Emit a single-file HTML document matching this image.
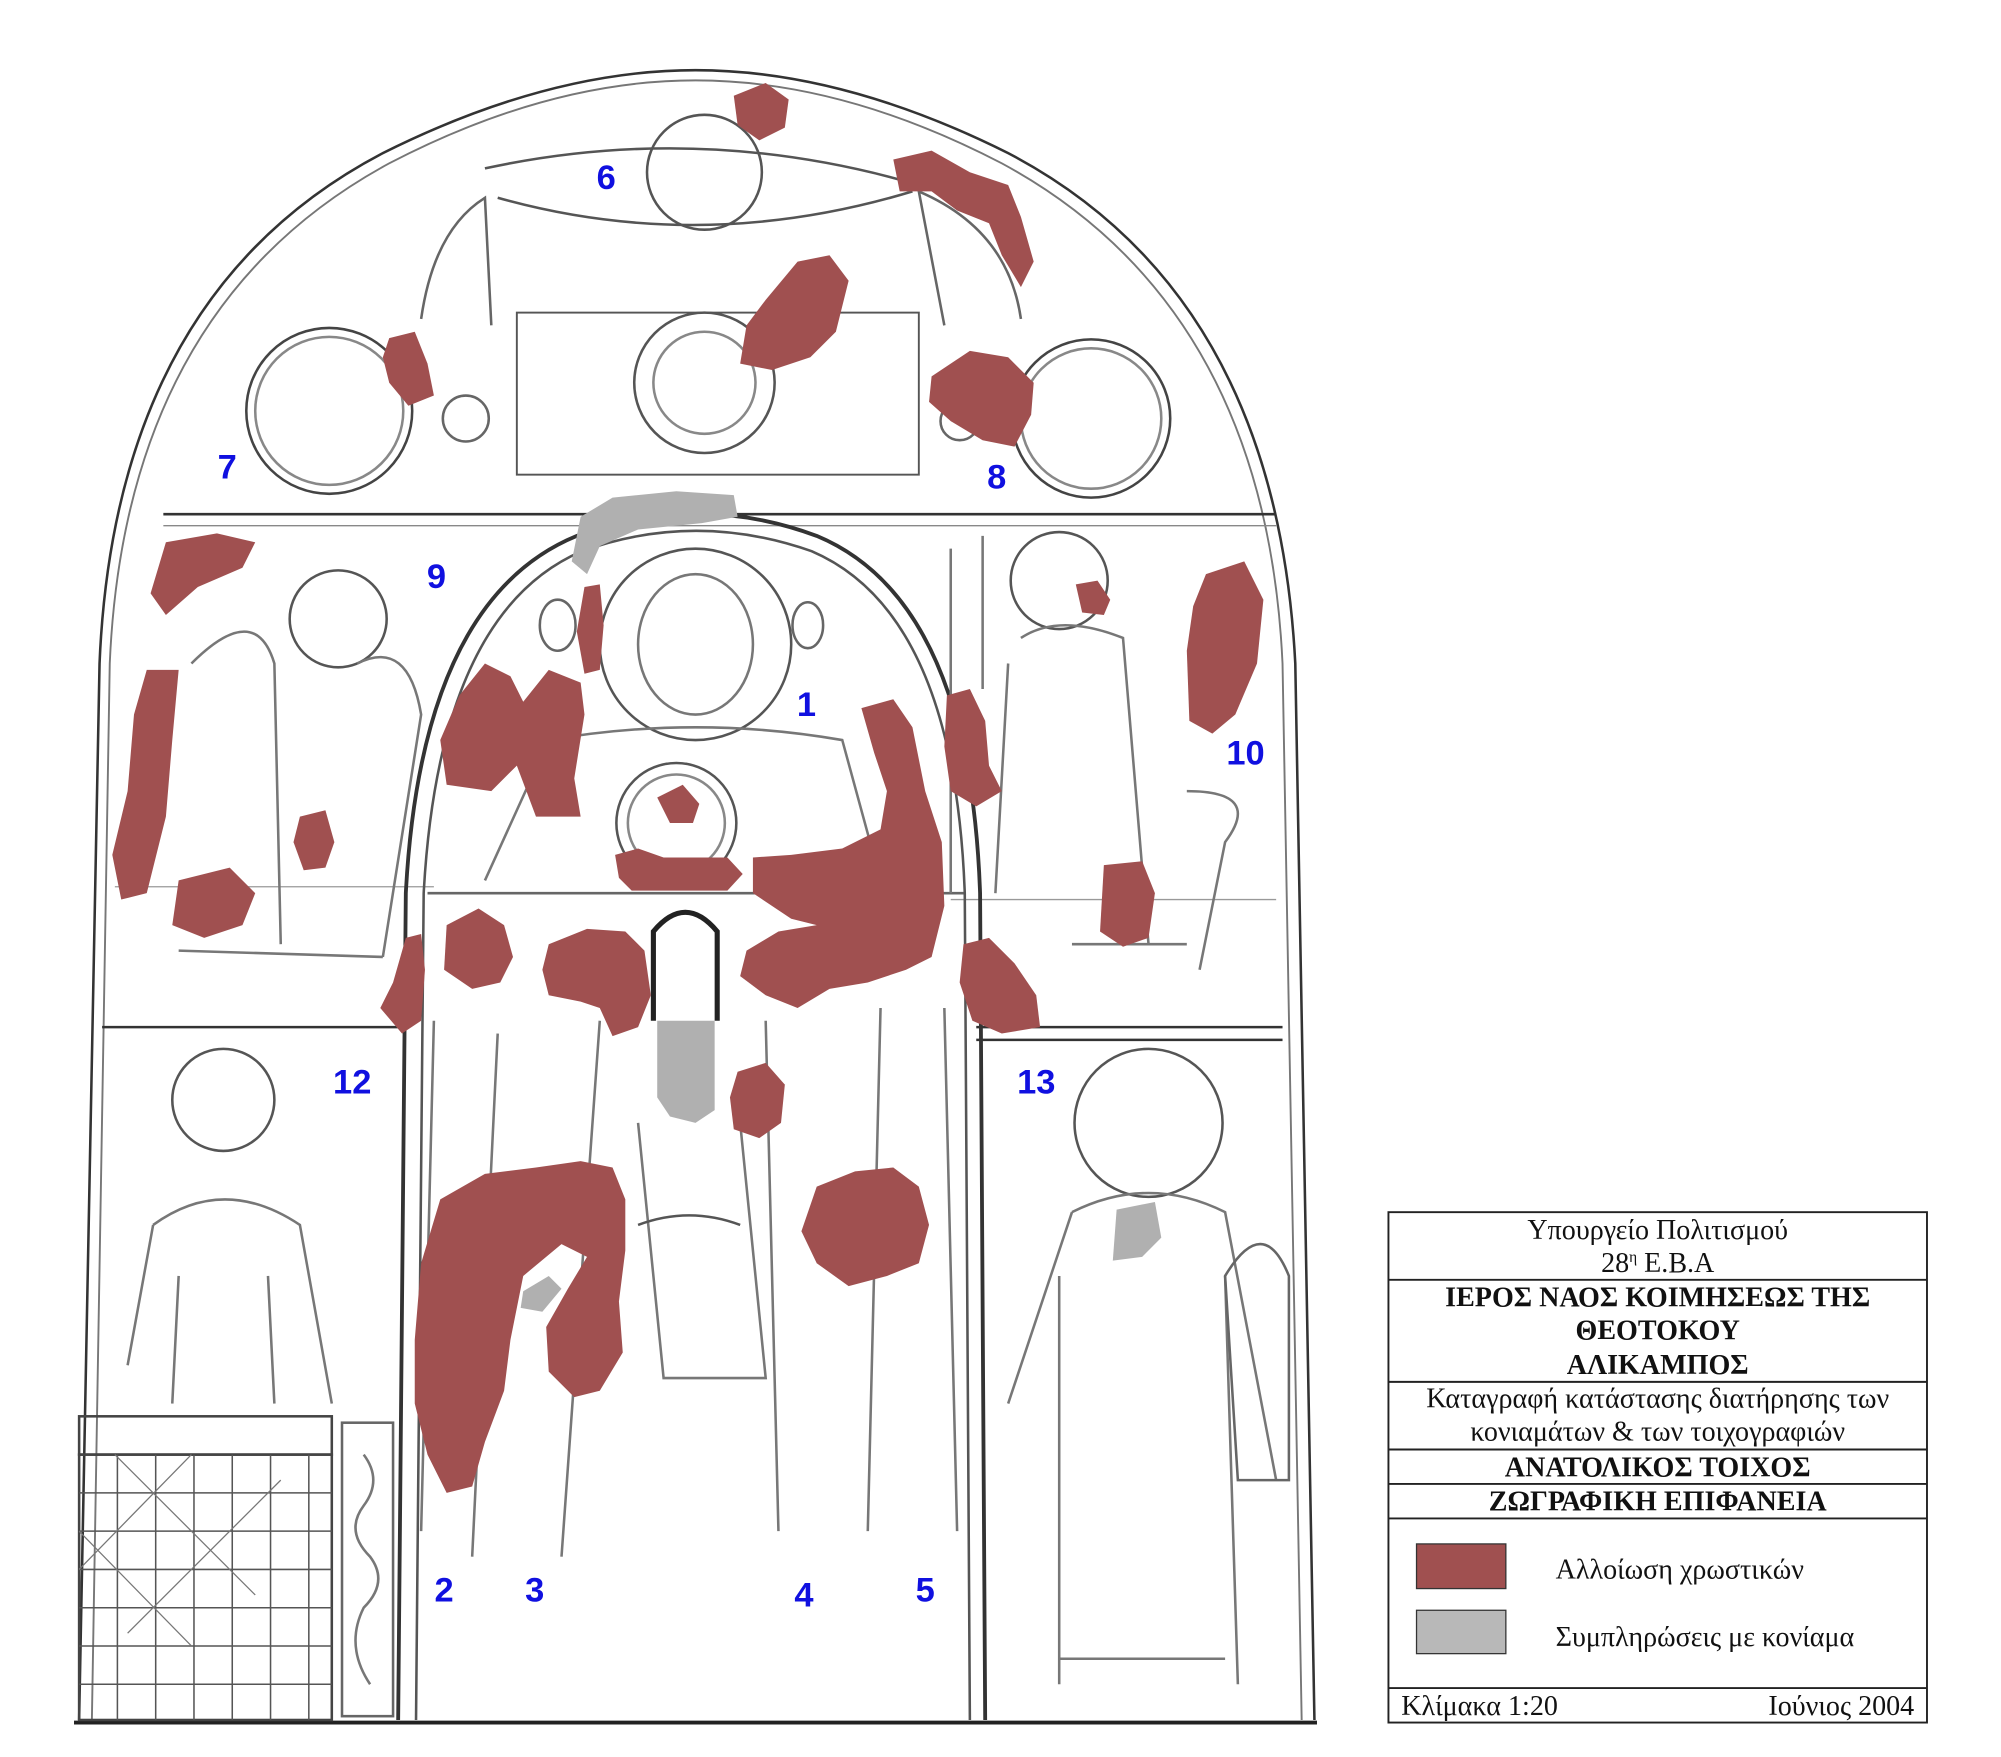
<!DOCTYPE html>
<html><head><meta charset="utf-8"><style>
html,body{margin:0;padding:0;background:#fff}
svg{display:block}
</style></head><body>
<svg width="2001" height="1757" viewBox="0 0 1568 1377" preserveAspectRatio="none" xmlns="http://www.w3.org/2000/svg">
<rect width="1568" height="1377" fill="#fff"/>
<g fill="none" stroke="#333" stroke-width="2">
<path d="M62 1348 L78 520 Q90 230 300 120 Q430 55 545 55 Q660 55 790 120 Q1000 230 1015 520 L1030 1348"/>
<path d="M72 1348 L86 520 Q98 240 305 128 Q430 63 545 63 Q660 63 785 128 Q992 240 1005 520 L1020 1348" stroke="#777" stroke-width="1.5"/>
<line x1="58" y1="1350" x2="1032" y2="1350" stroke="#222" stroke-width="3"/>
<line x1="128" y1="403" x2="1000" y2="403"/>
<line x1="128" y1="412" x2="1000" y2="412" stroke="#888" stroke-width="1"/>
<line x1="80" y1="805" x2="315" y2="805"/>
<line x1="765" y1="805" x2="1005" y2="805"/>
<line x1="765" y1="815" x2="1005" y2="815"/>
<line x1="90" y1="695" x2="340" y2="695" stroke="#999" stroke-width="1"/>
<line x1="745" y1="705" x2="1000" y2="705" stroke="#999" stroke-width="1"/>
<path d="M312 1348 L318 700 Q330 470 452 420 Q545 385 640 420 Q760 470 768 700 L772 1348" stroke-width="3"/>
<path d="M326 1348 L332 700 Q344 480 456 432 Q545 400 636 432 Q748 480 756 700 L760 1348" stroke-width="2" stroke="#555"/>
<line x1="335" y1="700" x2="755" y2="700" stroke="#666"/>
<path d="M380 132 Q550 95 720 145" stroke="#555"/>
<path d="M390 155 Q550 200 715 150" stroke="#555"/>
<path d="M330 250 Q340 180 380 155 L385 255" stroke="#666"/>
<path d="M800 250 Q790 180 720 150 L740 255" stroke="#666"/>
<rect x="405" y="245" width="315" height="127" stroke="#555" stroke-width="1.5"/>
<circle cx="552" cy="135" r="45" stroke="#555"/>
<circle cx="552" cy="300" r="55" stroke="#555"/>
<circle cx="552" cy="300" r="40" stroke="#888"/>
<circle cx="258" cy="322" r="65" stroke="#444"/>
<circle cx="258" cy="322" r="58" stroke="#888"/>
<circle cx="855" cy="328" r="62" stroke="#444"/>
<circle cx="855" cy="328" r="55" stroke="#888"/>
<circle cx="365" cy="328" r="18" stroke="#666"/>
<circle cx="752" cy="330" r="15" stroke="#666"/>
<circle cx="265" cy="485" r="38" stroke="#555"/>
<path d="M150 520 Q200 470 215 520 L220 740 M280 520 Q320 500 330 560 L300 750 M140 745 L300 750" stroke="#777"/>
<circle cx="545" cy="505" r="75" stroke="#555"/>
<ellipse cx="545" cy="505" rx="45" ry="55" stroke="#777"/>
<circle cx="530" cy="645" r="47" stroke="#555"/>
<circle cx="530" cy="645" r="38" stroke="#888"/>
<ellipse cx="437" cy="490" rx="14" ry="20" stroke="#666"/>
<ellipse cx="633" cy="490" rx="12" ry="18" stroke="#666"/>
<path d="M430 580 Q545 560 660 580 L690 690 M430 580 L380 690" stroke="#777"/>
<circle cx="830" cy="455" r="38" stroke="#555"/>
<path d="M745 430 L745 700 M770 420 L770 540 M800 500 Q830 480 880 500 L900 740 M790 520 L780 700 M840 740 L930 740 M930 620 Q990 620 960 660 L940 760" stroke="#777"/>
<path d="M512 800 L512 730 Q537 700 562 730 L562 800" stroke="#222" stroke-width="4"/>
<path d="M340 800 L330 1200 M390 810 L370 1220 M470 800 L440 1220 M600 800 L610 1200 M690 790 L680 1200 M740 790 L750 1200 M500 880 L520 1080 L600 1080 L580 880" stroke="#777"/>
<path d="M500 960 Q540 945 580 960" stroke="#555"/>
<circle cx="175" cy="862" r="40" stroke="#555"/>
<path d="M120 960 Q175 920 235 960 L260 1100 M120 960 L100 1070 M140 1000 L135 1100 M210 1000 L215 1100" stroke="#777"/>
<circle cx="900" cy="880" r="58" stroke="#555"/>
<path d="M840 950 Q900 920 960 950 L1000 1160 M840 950 L790 1100 M830 1000 L830 1320 M960 1000 L970 1320 M830 1300 L960 1300" stroke="#777"/>
<path d="M960 1000 Q990 950 1010 1000 L1010 1160 L970 1160 Z" stroke="#666"/>
<rect x="62" y="1110" width="198" height="30" stroke="#444"/>
<rect x="62" y="1140" width="198" height="208" stroke="#444"/>
<path d="M62 1170 H260 M62 1200 H260 M62 1230 H260 M62 1260 H260 M62 1290 H260 M62 1320 H260 M92 1140 V1348 M122 1140 V1348 M152 1140 V1348 M182 1140 V1348 M212 1140 V1348 M242 1140 V1348" stroke="#555" stroke-width="1.2"/>
<path d="M62 1200 L150 1290 M90 1140 L200 1250 M150 1140 L62 1230 M220 1160 L100 1280" stroke="#777" stroke-width="1"/>
<rect x="268" y="1115" width="40" height="230" stroke="#666"/>
<path d="M285 1140 Q300 1160 285 1180 Q270 1200 290 1220 Q305 1240 285 1260 Q270 1290 290 1320" stroke="#777"/>
</g>
<g fill="#a05050">
<path d="M575 75 L600 65 L618 78 L615 100 L595 110 L578 98 Z"/>
<path d="M700 125 L730 118 L760 135 L790 145 L800 170 L810 205 L800 225 L785 200 L775 175 L750 165 L730 150 L705 150 Z"/>
<path d="M600 235 L625 205 L650 200 L665 220 L655 260 L635 280 L605 290 L580 285 L585 255 Z"/>
<path d="M305 265 L325 260 L335 285 L340 310 L320 318 L305 300 L300 280 Z"/>
<path d="M730 295 L760 275 L790 280 L810 300 L808 325 L795 350 L770 345 L745 330 L728 315 Z"/>
<path d="M130 425 L170 418 L200 425 L190 445 L155 460 L130 482 L118 465 Z"/>
<path d="M115 525 L140 525 L135 580 L130 640 L115 700 L95 705 L88 670 L100 620 L105 560 Z"/>
<path d="M140 690 L180 680 L200 700 L190 725 L160 735 L135 725 Z"/>
<path d="M235 640 L255 635 L262 660 L255 680 L238 682 L230 660 Z"/>
<path d="M458 460 L470 458 L473 490 L470 525 L458 528 L452 495 Z"/>
<path d="M360 545 L380 520 L400 530 L410 550 L430 525 L455 535 L458 560 L450 610 L455 640 L420 640 L405 600 L385 620 L350 615 L345 580 Z"/>
<path d="M515 625 L535 615 L548 630 L543 645 L525 645 Z"/>
<path d="M482 670 L500 665 L520 672 L570 672 L582 685 L570 698 L495 698 L485 688 Z"/>
<path d="M945 450 L975 440 L990 470 L985 520 L968 560 L950 575 L932 565 L930 510 L935 475 Z"/>
<path d="M742 545 L760 540 L772 565 L775 600 L785 620 L765 632 L745 620 L740 585 Z"/>
<path d="M843 458 L860 455 L870 470 L865 482 L848 480 Z"/>
<path d="M675 555 L700 548 L715 570 L725 620 L738 660 L740 710 L730 750 L710 760 L680 770 L650 775 L625 790 L600 780 L580 765 L585 745 L610 730 L640 725 L620 720 L590 700 L590 672 L620 670 L660 665 L690 650 L695 620 L685 590 Z"/>
<path d="M865 678 L895 675 L905 700 L900 735 L880 742 L862 730 Z"/>
<path d="M755 740 L775 735 L795 755 L812 780 L815 805 L785 810 L762 800 L752 770 Z"/>
<path d="M350 725 L375 712 L395 725 L402 750 L392 770 L370 775 L348 760 Z"/>
<path d="M430 740 L460 728 L490 730 L505 745 L510 780 L500 805 L480 812 L470 790 L455 785 L430 780 L425 760 Z"/>
<path d="M318 735 L330 732 L333 760 L330 800 L315 810 L298 790 L308 770 Z"/>
<path d="M578 840 L600 833 L615 850 L612 880 L595 892 L575 885 L572 860 Z"/>
<path d="M640 930 L670 918 L700 915 L720 930 L728 960 L720 990 L695 1000 L665 1008 L640 990 L628 965 Z"/>
<path d="M345 940 L380 920 L420 915 L455 910 L480 915 L490 940 L490 980 L485 1020 L488 1060 L470 1090 L450 1095 L430 1075 L428 1040 L445 1010 L460 985 L440 975 L410 1000 L400 1050 L395 1090 L380 1130 L370 1165 L350 1170 L335 1140 L325 1100 L325 1050 L330 990 Z"/>
</g>
<g fill="#b0b0b0">
<path d="M455 405 L480 390 L530 385 L575 388 L578 405 L550 410 L500 415 L470 428 L460 450 L448 440 Z"/>
<path d="M515 800 L560 800 L560 870 L545 880 L525 875 L515 860 Z"/>
<path d="M875 948 L905 942 L910 970 L895 985 L872 988 Z"/>
<path d="M410 1012 L430 1000 L440 1010 L425 1028 L408 1025 Z"/>
</g>
<g font-family="Liberation Sans, sans-serif" font-weight="bold" font-size="27" fill="#1010e0" text-anchor="middle">
<text x="475" y="148">6</text>
<text x="178" y="375">7</text>
<text x="781" y="383">8</text>
<text x="342" y="461">9</text>
<text x="632" y="561">1</text>
<text x="976" y="599">10</text>
<text x="276" y="857">12</text>
<text x="812" y="857">13</text>
<text x="348" y="1255">2</text>
<text x="419" y="1255">3</text>
<text x="630" y="1259">4</text>
<text x="725" y="1255">5</text>
</g>
<g fill="none" stroke="#222" stroke-width="1.5">
<rect x="1088" y="950" width="422" height="400"/>
<line x1="1088" y1="1003" x2="1510" y2="1003"/>
<line x1="1088" y1="1083" x2="1510" y2="1083"/>
<line x1="1088" y1="1136" x2="1510" y2="1136"/>
<line x1="1088" y1="1163" x2="1510" y2="1163"/>
<line x1="1088" y1="1190" x2="1510" y2="1190"/>
<line x1="1088" y1="1323" x2="1510" y2="1323"/>
</g>
<rect x="1110" y="1210" width="70" height="35" fill="#a05050" stroke="#333"/>
<rect x="1110" y="1262" width="70" height="34" fill="#b8b8b8" stroke="#333"/>
<g font-family="Liberation Serif, serif" font-size="22" fill="#111" text-anchor="middle">
<text x="1299" y="971">Υπουργείο Πολιτισμού</text>
<text x="1299" y="997">28<tspan font-size="12" dy="-8">η</tspan><tspan dy="8"> Ε.Β.Α</tspan></text>
<text x="1299" y="1024" font-weight="bold">ΙΕΡΟΣ ΝΑΟΣ ΚΟΙΜΗΣΕΩΣ ΤΗΣ</text>
<text x="1299" y="1050" font-weight="bold">ΘΕΟΤΟΚΟΥ</text>
<text x="1299" y="1077" font-weight="bold">ΑΛΙΚΑΜΠΟΣ</text>
<text x="1299" y="1103">Καταγραφή κατάστασης διατήρησης των</text>
<text x="1299" y="1129">κονιαμάτων &amp; των τοιχογραφιών</text>
<text x="1299" y="1157" font-weight="bold">ΑΝΑΤΟΛΙΚΟΣ ΤΟΙΧΟΣ</text>
<text x="1299" y="1184" font-weight="bold">ΖΩΓΡΑΦΙΚΗ ΕΠΙΦΑΝΕΙΑ</text>
<text x="1219" y="1237" text-anchor="start">Αλλοίωση χρωστικών</text>
<text x="1219" y="1290" text-anchor="start">Συμπληρώσεις με κονίαμα</text>
<text x="1098" y="1344" text-anchor="start">Κλίμακα 1:20</text>
<text x="1500" y="1344" text-anchor="end">Ιούνιος 2004</text>
</g>
</svg>
</body></html>
